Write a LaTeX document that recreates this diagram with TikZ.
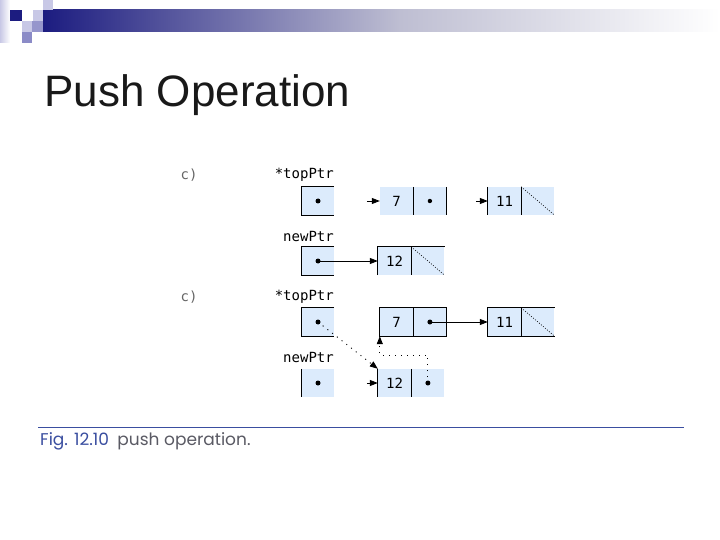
\documentclass[tikz,border=0pt]{standalone}
\usepackage{fontspec}
\setmainfont{Liberation Sans}
\newfontfamily\codefont{DejaVu Sans Mono}
\newfontfamily\capfont{Poppins}
\usetikzlibrary{arrows.meta, positioning}
\definecolor{barnavy}{RGB}{28,28,128}
\definecolor{barmid}{RGB}{190,190,210}
\definecolor{lavlight}{RGB}{200,200,230}
\definecolor{lavmid}{RGB}{150,150,204}
\definecolor{cellblue}{RGB}{220,235,252}
\definecolor{capblue}{RGB}{58,78,160}
\definecolor{capgray}{RGB}{90,90,100}

\begin{document}
\begin{tikzpicture}[x=1pt, y=-1pt,
    cell/.style={fill=cellblue, minimum width=33pt, minimum height=28pt,
                 inner sep=0pt, font=\codefont\fontsize{14}{14}\selectfont},
    ptrbox/.style={cell, minimum width=32pt},
    lbl/.style={font=\codefont\fontsize{14}{14}\selectfont, inner sep=0pt},
    edge/.style={line width=0.8pt},
    nullline/.style={line width=0.6pt, dash pattern=on 1pt off 1.6pt},
    ptr/.style={line width=0.8pt, -{Triangle[length=8pt, width=6pt]}},
    ptrdot/.style={line width=0.9pt, dash pattern=on 1pt off 5pt,
                   -{Triangle[length=8pt, width=6pt]}},
]
\useasboundingbox[fill=white] (0,0) rectangle (720,540);

% header bar and corner squares
\shade[left color=barnavy, right color=barmid] (43,10) rectangle (400,32);
\shade[left color=barmid, right color=white] (400,10) rectangle (720,32);
\shade[left color=lavlight, right color=white] (0,0) rectangle (10,43);
\fill[barnavy] (10,10) rectangle (22,21);
\fill[lavlight] (33,10) rectangle (43,21);
\fill[lavlight] (43,0) rectangle (53,10);
\fill[lavlight] (22,21) rectangle (32,32);
\fill[lavmid] (32,21) rectangle (43,32);
\fill[lavmid!110] (22,32) rectangle (32,43);

\node[anchor=base west, font=\fontsize{44}{44}\selectfont, text=black!90] (title) at (41,107) {Push Operation};

% (a) before the new node is linked
\node[lbl, text=black!60] (alab) at (189,175) {c)};
\node[lbl, anchor=east] (atoplab) at (334,175) {*topPtr};
\node[lbl, anchor=east] (anewlab) at (334,236) {newPtr};
\node[ptrbox] (atop) at (318,201) {};
\node[ptrbox] (anew) at (318,261) {};
\node[cell] (a7) at (396.5,201) {7};
\node[cell, right=0pt of a7] (a7n) {};
\node[cell] (a11) at (504.5,201) {11};
\node[cell, right=0pt of a11] (a11n) {};
\node[cell] (a12) at (394.5,261) {12};
\node[cell, right=0pt of a12] (a12n) {};
\draw[edge] (atop.north east) -- (atop.north west) -- (atop.south west) -- (atop.south east);
\draw[edge] (anew.north east) -- (anew.north west) -- (anew.south west) -- (anew.south east);
\draw[edge] (a7n.north west) -- (a7n.south west) (a7n.north east) -- (a7n.south east);
\draw[edge] (a11.north west) -- (a11.south west) (a11n.north west) -- (a11n.south west);
\draw[edge] (a12.south west) -- (a12.north west) -- (a12n.north east) (a12n.north west) -- (a12n.south west);
\draw[nullline] (a11n.north west) -- (a11n.south east);
\draw[nullline] (a12n.north west) -- (a12n.south east);
\fill (atop.center) circle (2.5);
\fill (anew.center) circle (2.5);
\fill (a7n.center) circle (2.2);
\coordinate (a7in) at ([xshift=-13pt]a7.west);
\coordinate (a11in) at ([xshift=-12pt]a11.west);
\draw[ptr] (a7in) -- (a7.west);
\draw[ptr] (a11in) -- (a11.west);
\draw[ptr] (anew.center) -- (a12.west);

% (b) after the new node is linked
\node[lbl, text=black!60] (blab) at (189,297) {c)};
\node[lbl, anchor=east] (btoplab) at (334,297) {*topPtr};
\node[lbl, anchor=east] (bnewlab) at (334,357) {newPtr};
\node[ptrbox] (btop) at (318,322) {};
\node[ptrbox] (bnew) at (318,383) {};
\node[cell] (b7) at (396.5,322) {7};
\node[cell, right=0pt of b7] (b7n) {};
\node[cell] (b11) at (504.5,322) {11};
\node[cell, right=0pt of b11] (b11n) {};
\node[cell] (b12) at (394.5,383) {12};
\node[cell, right=0pt of b12] (b12n) {};
\draw[edge] (btop.north east) -- (btop.north west) -- (btop.south west) -- (btop.south east);
\draw[edge] (bnew.north west) -- (bnew.south west);
\draw[edge] (b7.north west) rectangle (b7n.south east) (b7n.north west) -- (b7n.south west);
\draw[edge] (b11n.north east) -- (b11.north west) -- (b11.south west) -- (b11n.south east)
            (b11n.north west) -- (b11n.south west);
\draw[edge] (b12.north west) -- (b12.south west) (b12n.north west) -- (b12n.south west);
\draw[nullline] (b11n.north west) -- (b11n.south east);
\fill (btop.center) circle (2.5);
\fill (bnew.center) circle (2.5);
\fill (b7n.center) circle (2.5);
\fill (b12n.center) circle (2.5);
\coordinate (b12in) at ([xshift=-11pt]b12.west);
\draw[ptr] (b12in) -- (b12.west);
\draw[ptr] (b7n.center) -- (b11.west);
\draw[ptrdot] (btop.center) -- (b12.north west);
\draw[ptrdot] (b12n.center) -- ++(0,-28) -| (b7.south west);

% caption
\draw[capblue, line width=0.8pt] (38,427) -- (684,427);
\node[anchor=base west, inner sep=0pt, font=\capfont\fontsize{17}{17}\selectfont] (cap) at (40,445)
  {\textcolor{capblue}{Fig. 12.10}\enspace\textcolor{capgray}{push operation.}};
\end{tikzpicture}
\end{document}
